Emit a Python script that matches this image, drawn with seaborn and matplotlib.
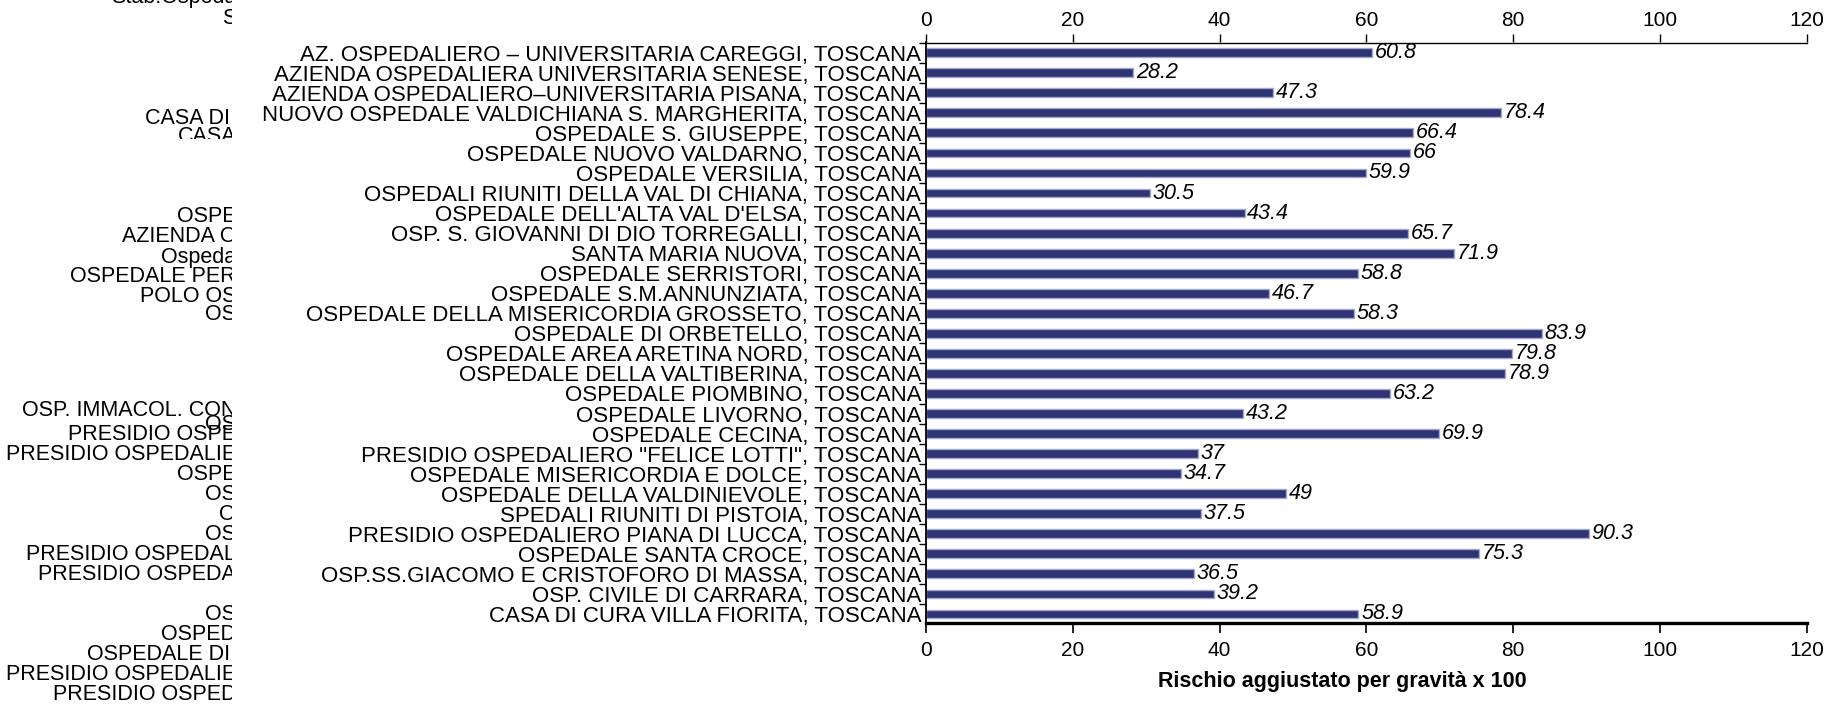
import numpy as np
import matplotlib
matplotlib.use("Agg")
import matplotlib.pyplot as plt
from matplotlib.transforms import Bbox, TransformedBbox
import seaborn as sns

ospedali = [
    "AZ. OSPEDALIERO – UNIVERSITARIA CAREGGI, TOSCANA",
    "AZIENDA OSPEDALIERA UNIVERSITARIA SENESE, TOSCANA",
    "AZIENDA OSPEDALIERO–UNIVERSITARIA PISANA, TOSCANA",
    "NUOVO OSPEDALE VALDICHIANA S. MARGHERITA, TOSCANA",
    "OSPEDALE S. GIUSEPPE, TOSCANA",
    "OSPEDALE NUOVO VALDARNO, TOSCANA",
    "OSPEDALE VERSILIA, TOSCANA",
    "OSPEDALI RIUNITI DELLA VAL DI CHIANA, TOSCANA",
    "OSPEDALE DELL'ALTA VAL D'ELSA, TOSCANA",
    "OSP. S. GIOVANNI DI DIO TORREGALLI, TOSCANA",
    "SANTA MARIA NUOVA, TOSCANA",
    "OSPEDALE SERRISTORI, TOSCANA",
    "OSPEDALE S.M.ANNUNZIATA, TOSCANA",
    "OSPEDALE DELLA MISERICORDIA GROSSETO, TOSCANA",
    "OSPEDALE DI ORBETELLO, TOSCANA",
    "OSPEDALE AREA ARETINA NORD, TOSCANA",
    "OSPEDALE DELLA VALTIBERINA, TOSCANA",
    "OSPEDALE PIOMBINO, TOSCANA",
    "OSPEDALE LIVORNO, TOSCANA",
    "OSPEDALE CECINA, TOSCANA",
    "PRESIDIO OSPEDALIERO \"FELICE LOTTI\", TOSCANA",
    "OSPEDALE MISERICORDIA E DOLCE, TOSCANA",
    "OSPEDALE DELLA VALDINIEVOLE, TOSCANA",
    "SPEDALI RIUNITI DI PISTOIA, TOSCANA",
    "PRESIDIO OSPEDALIERO PIANA DI LUCCA, TOSCANA",
    "OSPEDALE SANTA CROCE, TOSCANA",
    "OSP.SS.GIACOMO E CRISTOFORO DI MASSA, TOSCANA",
    "OSP. CIVILE DI CARRARA, TOSCANA",
    "CASA DI CURA VILLA FIORITA, TOSCANA",
]
rischio = [60.8, 28.2, 47.3, 78.4, 66.4, 66, 59.9, 30.5, 43.4, 65.7,
           71.9, 58.8, 46.7, 58.3, 83.9, 79.8, 78.9, 63.2, 43.2, 69.9,
           37, 34.7, 49, 37.5, 90.3, 75.3, 36.5, 39.2, 58.9]
x_ticks = [0, 20, 40, 60, 80, 100, 120]

# clipped label fragments from a neighbouring chart (left edge of the image)
frammenti = ["Stab.Ospeda", "S", "CASA DI ", "CASA", "OSPE", "AZIENDA O", "Ospeda",
             "OSPEDALE PER", "POLO OS", "OS", "OSP. IMMACOL. CON", "OS",
             "PRESIDIO OSPE", "PRESIDIO OSPEDALIE", "OSPE", "OS", "O", "OS",
             "PRESIDIO OSPEDAL", "PRESIDIO OSPEDA", "OS", "OSPED", "OSPEDALE DI ",
             "PRESIDIO OSPEDALIE", "PRESIDIO OSPED"]
frammenti_y = [-3, 19, 118, 136, 216, 237, 257, 277, 296, 315, 410, 425, 435, 454,
               475, 495, 515, 535, 555, 575, 614, 634, 654, 674, 694]

W, H = 1835, 707
plt.rcParams['font.family'] = ['Liberation Sans', 'DejaVu Sans']

fig = plt.figure(figsize=(W / 100, H / 100), dpi=100)
ax = fig.add_axes([926 / W, 1 - 623 / H, (1806.7 - 926) / W, (623 - 42.5) / H])

sns.barplot(x=rischio, y=ospedali, orient='h', color='#2e3372', saturation=1,
            width=0.44, edgecolor='#a4a8d0', linewidth=1.0, ax=ax)

ax.set_xlim(0, 120)
ax.set_ylim(28.45, -0.51)
ax.set_xlabel('')
ax.set_ylabel('')

ax.bar_label(ax.containers[0], labels=[f"{v:g}" for v in rischio], padding=2,
             fontsize=15.5, fontstyle='italic')

# spines
ax.spines['right'].set_visible(False)
ax.spines['top'].set_linewidth(1.0)
ax.spines['bottom'].set_linewidth(2.4)
ax.spines['left'].set_linewidth(1.3)

# x axis, bottom and top
ax.set_xticks(x_ticks)
ax.tick_params(axis='x', direction='out', length=7, width=1.2, labelsize=15, pad=6)
top = ax.secondary_xaxis('top')
top.set_xticks(x_ticks)
top.tick_params(axis='x', direction='out', length=6, width=1.0, labelsize=15, pad=3)
top.spines['top'].set_visible(False)

# y axis: labels at bar centres, ticks on category boundaries
ax.tick_params(axis='y', which='major', length=0, labelsize=16, pad=3.5)
ax.set_yticks(np.arange(-0.5, len(ospedali) - 0.5, 1), minor=True)
ax.tick_params(axis='y', which='minor', direction='out', length=5, width=1.0)

fig.text(1342 / W, 1 - 682 / H, 'Rischio aggiustato per gravità x 100',
         ha='center', va='center', fontsize=15.5, fontweight='bold')

clip = TransformedBbox(Bbox([[0, 0], [2.32, H / 100]]), fig.dpi_scale_trans)
clip_casa = TransformedBbox(Bbox([[0, (H - 139) / 100], [2.32, H / 100]]), fig.dpi_scale_trans)
for testo, yy in zip(frammenti, frammenti_y):
    t = fig.text(236 / W, 1 - yy / H, testo, ha='right', va='center', fontsize=15.5)
    t.set_clip_box(clip_casa if yy == 136 else clip)
    t.set_clip_on(True)

fig.savefig('out.png', dpi=100)
